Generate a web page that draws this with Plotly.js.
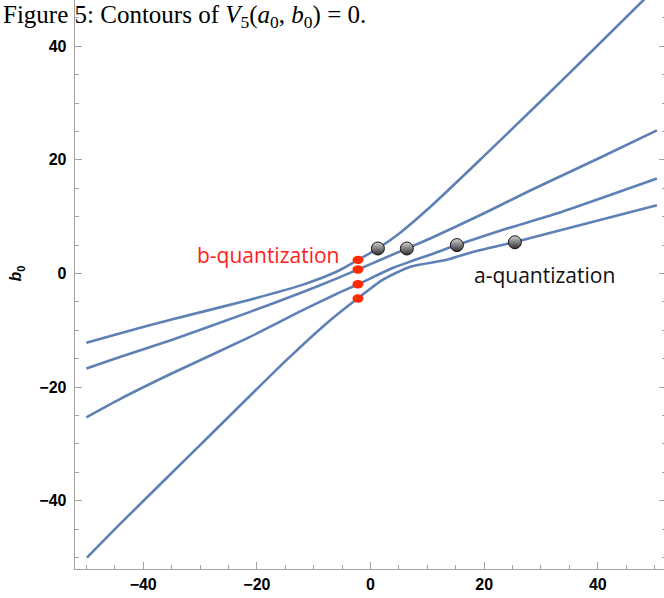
<!DOCTYPE html>
<html>
<head>
<meta charset="utf-8">
<script src="https://cdn.plot.ly/plotly-3.0.1.min.js"></script>
<style>
  html, body { margin: 0; padding: 0; overflow: hidden; background: #fff; }
  #chart { position: absolute; left: 0; top: -30px; width: 666px; height: 628px; }
</style>
</head>
<body>
<div id="chart"></div>
<script>
// Contours of V5(a0, b0) = 0: four branches, each bending between two asymptotic slopes.
const curve1A = [-50, -44, -35, -21.2, -12, -6, -2.2, 1.3, 5, 10.5, 20, 30, 37.5, 50];
const curve1B = [-12.2, -10.5, -8.1, -4.6, -2.0, 0.3, 2.4, 4.4, 7.0, 11.7, 20.7, 30.35, 37.7, 50.05];

const curve2A = [-50, -44.1, -35, -21.2, -12, -6, -2.2, 2, 6.4, 10.5, 20, 28.1, 40, 50.4];
const curve2B = [-16.7, -14.7, -11.7, -6.75, -3.3, -0.9, 0.7, 2.5, 4.4, 6.15, 10.6, 14.6, 20.2, 25.2];

const curve3A = [-50, -44.1, -35, -21.2, -12, -6, -2.2, 4, 7, 10.5, 15.2, 24, 32.8, 50.4];
const curve3B = [-25.3, -22.1, -17.6, -11.15, -6.5, -3.6, -1.9, 1.0, 2.1, 3.3, 5.0, 7.9, 10.55, 16.7];

const curve4A = [-49.9, -44.1, -30, -14.8, -8, -2.4, 2, 7, 13.4, 18, 25.3, 33.4, 50.4];
const curve4B = [-50, -44.1, -30.2, -15.25, -9, -4.5, -1.2, 1.2, 2.4, 3.8, 5.5, 7.6, 12.0];

// quantization points
const bQuantA = [-2.2, -2.2, -2.2, -2.2];
const bQuantB = [2.4, 0.7, -1.9, -4.4];
const aQuantA = [1.3, 6.4, 15.2, 25.4];
const aQuantB = [4.4, 4.4, 5.0, 5.5];

const xTicks = [-40, -20, 0, 20, 40];
const yTicks = [-40, -20, 0, 20, 40];

const lineColor = '#5e81b5';
const curves = [[curve1A, curve1B], [curve2A, curve2B], [curve3A, curve3B], [curve4A, curve4B]];

const traces = curves.map(([a, b]) => ({
  x: a, y: b, type: 'scatter', mode: 'lines',
  line: { color: lineColor, width: 2.6, shape: 'spline', smoothing: 0.6 },
  hoverinfo: 'skip', showlegend: false
}));

traces.push({
  x: aQuantA, y: aQuantB, type: 'scatter', mode: 'markers',
  marker: { size: 13, color: '#d2d2d2', line: { color: '#111', width: 1 },
            gradient: { type: 'vertical', color: '#2e2e2e' } },
  hoverinfo: 'skip', showlegend: false
});

// red b-quantization markers as small ellipses anchored at the data points
const shapes = bQuantA.map((a, i) => ({
  type: 'circle', xref: 'x', yref: 'y',
  xsizemode: 'pixel', ysizemode: 'pixel',
  xanchor: a, yanchor: bQuantB[i],
  x0: -5.5, x1: 5.5, y0: -4.2, y1: 4.2,
  fillcolor: '#ff2a00', line: { width: 0 }, layer: 'above'
}));

const fmt = v => (v < 0 ? '\u2212' + (-v) : '' + v);

const axisCommon = {
  showgrid: false, zeroline: false,
  showline: true, linecolor: '#a3a3a3', linewidth: 1.3, mirror: 'ticks',
  ticks: 'inside', ticklen: 7, tickwidth: 1, tickcolor: '#a3a3a3',
  minor: { dtick: 5, ticks: 'inside', ticklen: 4, tickcolor: '#a3a3a3', tickwidth: 1 },
  tickfont: { family: 'Liberation Sans, Arial, sans-serif', size: 16, color: '#000', weight: 'bold' },
  tickmode: 'array'
};

const layout = {
  width: 666, height: 628,
  margin: { l: 75, r: 0, t: 8, b: 29 },
  paper_bgcolor: '#fff', plot_bgcolor: '#fff',
  xaxis: Object.assign({}, axisCommon, {
    range: [-52, 52], tickvals: xTicks, ticktext: xTicks.map(fmt),
    ticklabelstandoff: 0
  }),
  yaxis: Object.assign({}, axisCommon, {
    range: [-52, 52], tickvals: yTicks, ticktext: yTicks.map(fmt),
    ticklabelstandoff: 4,
    title: { text: '<b><i>b</i><sub>0</sub></b>', standoff: 13,
             font: { family: 'Liberation Sans, Arial, sans-serif', size: 16, color: '#000' } }
  }),
  shapes: shapes,
  annotations: [
    { text: 'b-quantization', xref: 'x', yref: 'y', x: -18.0, y: 3.2,
      showarrow: false, font: { family: 'Open Sans, sans-serif', size: 21, color: '#ff2020' } },
    { text: 'a-quantization', xref: 'x', yref: 'y', x: 30.6, y: -0.3,
      showarrow: false, font: { family: 'Open Sans, sans-serif', size: 21, color: '#111' } },
    { text: 'Figure 5: Contours of <i>V</i><sub>5</sub>(<i>a</i><sub>0</sub>, <i>b</i><sub>0</sub>) = 0.',
      xref: 'paper', yref: 'paper', x: -0.125, y: 0.965, xanchor: 'left', yanchor: 'top',
      showarrow: false, font: { family: 'Liberation Serif, Times New Roman, serif', size: 25, color: '#000' } }
  ]
};

Plotly.newPlot('chart', traces, layout, { staticPlot: true, displayModeBar: false });
</script>
</body>
</html>
